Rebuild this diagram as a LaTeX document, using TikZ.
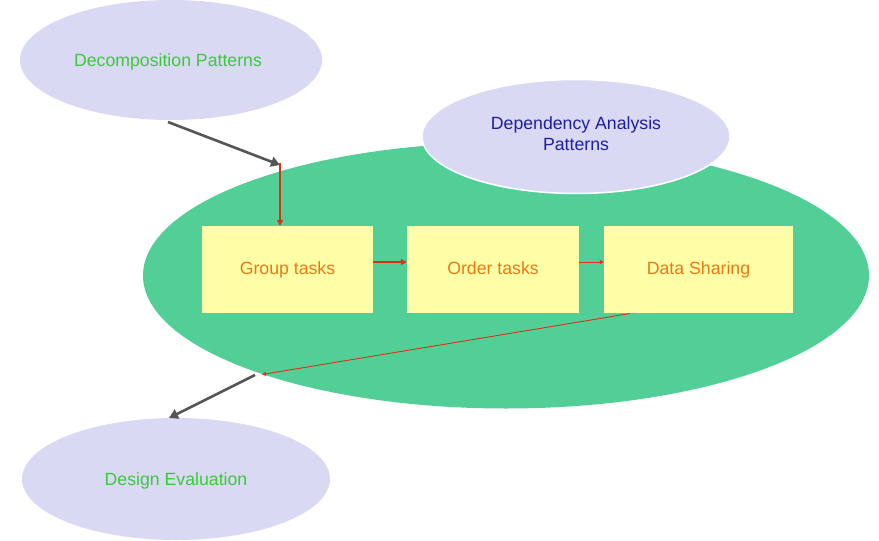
\documentclass[tikz,border=0pt]{standalone}
\usepackage{fontspec}
\setmainfont{Liberation Sans}
\usetikzlibrary{arrows.meta}
\definecolor{lav}{RGB}{217,217,244}
\definecolor{bigg}{RGB}{82,207,150}
\definecolor{boxy}{RGB}{255,255,168}
\definecolor{txtg}{RGB}{60,200,60}
\definecolor{txtb}{RGB}{30,30,160}
\definecolor{txto}{RGB}{236,120,20}
\definecolor{redl}{RGB}{220,50,20}
\definecolor{grayl}{RGB}{85,85,85}
\begin{document}
\begin{tikzpicture}[x=1pt,y=-1pt,
  lab/.style={font=\fontsize{17.7}{21}\selectfont, align=center},
  taskbox/.style={fill=boxy, draw=none, minimum width=171pt, minimum height=87pt, inner sep=0pt, text=txto, lab, text height=12.7pt, text depth=3.5pt},
  grayarr/.style={draw=grayl, line width=2.6pt, -{Triangle[length=9pt,width=10pt]}},
  redarr/.style={draw=redl, line width=1.5pt, -{Triangle[length=6pt,width=6pt]}},
  redthin/.style={draw=redl, line width=0.9pt, -{Triangle[length=4pt,width=4pt]}}]
\useasboundingbox (0,0) rectangle (879,541);
% big green ellipse
\fill[bigg] (506,275.5) ellipse [x radius=363, y radius=133];
% ellipses
\fill[lav] (171,60) ellipse [x radius=151, y radius=60];
\node[lab, text=txtg] (decomp) at (168,61.5) {Decomposition Patterns};
\filldraw[fill=lav, draw=white, line width=1.5pt] (576,136.5) ellipse [x radius=154, y radius=57];
\node[lab, text=txtb] (dep) at (576,134) {Dependency Analysis\\Patterns};
\fill[lav] (176,479) ellipse [x radius=154, y radius=61];
\node[lab, text=txtg] (deval) at (176,480.5) {Design Evaluation};
% boxes
\node[taskbox] (group) at (287.5,269.5) {Group tasks};
\node[taskbox, minimum width=172pt] (order) at (493,269.5) {Order tasks};
\node[taskbox, minimum width=189pt] (share) at (698.5,269.5) {Data Sharing};
% coordinates
\coordinate (gs) at (168,122);
\coordinate (ge) at (280,165);
\coordinate (rs) at (280,163);
\coordinate (shb) at (630,313.5);
\coordinate (re) at (262,374.5);
\coordinate (g2s) at (255,375);
\coordinate (g2e) at (169,418);
% connectors
\draw[grayarr] (gs) -- (ge);
\draw[redarr] (rs) -- (rs |- group.north);
\draw[redarr] (group.east |- 0,262) -- (order.west |- 0,262);
\draw[redthin] (order.east |- 0,262) -- (share.west |- 0,262);
\draw[redthin] (shb) -- (re);
\draw[grayarr] (g2s) -- (g2e);
\end{tikzpicture}
\end{document}
